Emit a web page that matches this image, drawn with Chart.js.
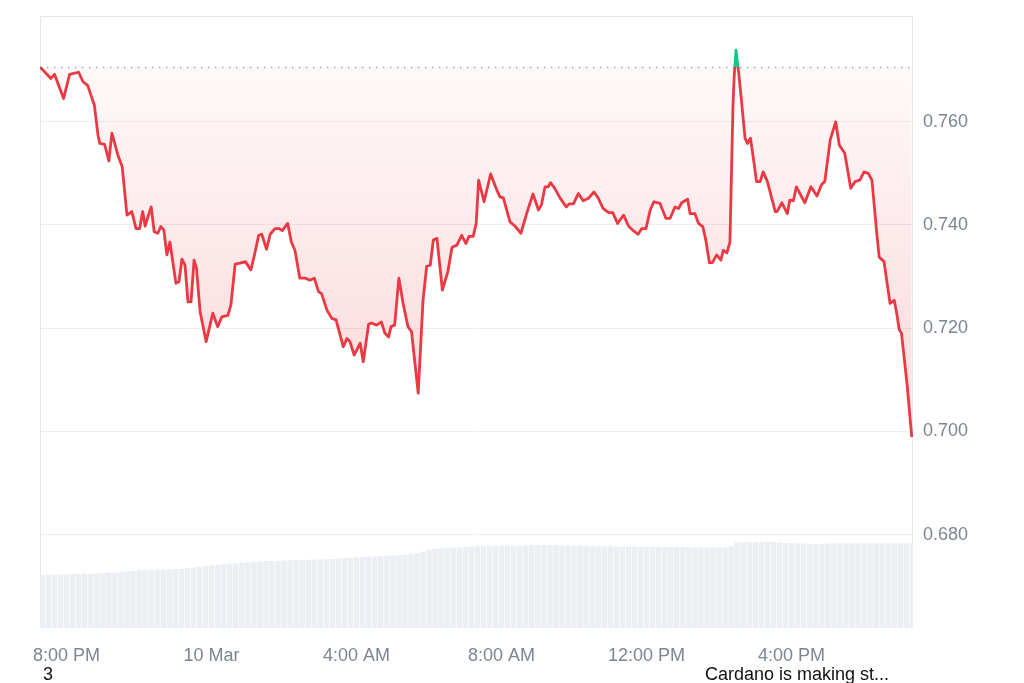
<!DOCTYPE html>
<html>
<head>
<meta charset="utf-8">
<script src="https://cdn.jsdelivr.net/npm/chart.js@4.4.1/dist/chart.umd.min.js"></script>
<style>
  body { margin: 0; background: #fff; }
  #wrap { position: relative; width: 1024px; height: 683px; }
  .caption { position: absolute; top: 665px; font: 18px/18px "Liberation Sans", Arial, sans-serif; color: #111; }
</style>
</head>
<body>
<div id="wrap">
  <canvas id="chart" width="1024" height="683"></canvas>
  <div class="caption" style="left:43px">3</div>
  <div class="caption" style="left:705px">Cardano is making st...</div>
</div>
<script>
// minutes from 8:00 PM (9 Mar)
const priceTimes = [-44,-26,-20,-5,5,20,27,35,46,52,
  55,63,70,75,85,92,100,108,115,121,
  126,130,140,145,151,156,161,166,171,181,
  186,191,196,201,206,211,215,221,231,242,
  250,257,267,272,279,287,296,305,311,318,
  323,331,337,345,352,357,366,372,378,386,
  395,403,410,417,422,431,439,446,458,464,
  469,476,486,491,500,505,513,521,527,533,
  537,543,550,557,565,571,582,590,596,602,
  607,613,622,631,638,646,654,661,666,673,
  678,682,691,702,712,717,723,734,742,752,
  762,772,781,786,792,797,801,808,817,827,
  832,839,847,855,864,873,880,888,897,904,
  912,922,930,938,946,952,959,966,972,982,
  992,999,1007,1013,1018,1028,1032,1040,1046,1053,
  1058,1064,1069,1076,1083,1087,1093,1098,1103,1105,
  1108,1112,1117,1123,1127,1132,1138,1142,1148,1153,
  1160,1173,1176,1184,1193,1197,1203,1208,1222,1232,
  1242,1250,1255,1264,1273,1279,1288,1298,1305,1313,
  1320,1327,1333,1341,1345,1353,1363,1370,1375,1378,
  1382,1391,1399];

const prices = [0.7706,0.7684,0.7692,0.7645,0.7692,0.7696,0.7678,0.7670,0.7632,0.7574,
  0.7558,0.7556,0.7524,0.7578,0.7535,0.7513,0.7419,0.7426,0.7393,0.7393,
  0.7426,0.7398,0.7435,0.7387,0.7384,0.7397,0.7390,0.7342,0.7367,0.7287,
  0.7290,0.7334,0.7322,0.7251,0.7251,0.7332,0.7316,0.7232,0.7174,0.7229,
  0.7203,0.7222,0.7225,0.7245,0.7324,0.7326,0.7329,0.7313,0.7342,0.7380,
  0.7382,0.7353,0.7382,0.7393,0.7393,0.7389,0.7403,0.7367,0.7351,0.7297,
  0.7297,0.7293,0.7297,0.7271,0.7267,0.7235,0.7219,0.7216,0.7164,0.7180,
  0.7174,0.7148,0.7171,0.7135,0.7208,0.7210,0.7206,0.7212,0.7190,0.7183,
  0.7203,0.7206,0.7297,0.7248,0.7203,0.7193,0.7074,0.7254,0.7320,0.7322,
  0.7371,0.7374,0.7274,0.7309,0.7357,0.7361,0.7380,0.7364,0.7378,0.7378,
  0.7403,0.7487,0.7445,0.7499,0.7468,0.7455,0.7452,0.7406,0.7398,0.7384,
  0.7424,0.7460,0.7429,0.7439,0.7474,0.7474,0.7482,0.7471,0.7452,0.7435,
  0.7441,0.7441,0.7461,0.7447,0.7452,0.7464,0.7452,0.7432,0.7424,0.7424,
  0.7403,0.7419,0.7398,0.7389,0.7382,0.7393,0.7393,0.7429,0.7445,0.7442,
  0.7413,0.7413,0.7435,0.7432,0.7443,0.7450,0.7422,0.7422,0.7403,0.7397,
  0.7371,0.7327,0.7327,0.7342,0.7332,0.7351,0.7346,0.7367,0.7629,0.7687,
  0.7739,0.7700,0.7642,0.7568,0.7558,0.7568,0.7519,0.7484,0.7484,0.7503,
  0.7484,0.7426,0.7426,0.7443,0.7422,0.7448,0.7447,0.7474,0.7443,0.7474,
  0.7456,0.7479,0.7484,0.7565,0.7600,0.7555,0.7539,0.7471,0.7484,0.7487,
  0.7503,0.7500,0.7487,0.7384,0.7338,0.7329,0.7248,0.7254,0.7222,0.7198,
  0.7190,0.7093,0.6989];

// volume bars, one every 10 minutes starting 7:20 PM (millions)
const volumeStart = -40;
const volumeStep = 10;
const volumes = [1062,1064,1068,1070,1074,1078,1080,1084,1086,1090,
  1094,1104,1112,1122,1132,1142,1154,1162,1164,1168,
  1170,1174,1178,1182,1196,1210,1224,1238,1250,1262,
  1274,1286,1298,1306,1314,1322,1330,1338,1342,1346,
  1350,1354,1358,1362,1364,1368,1372,1376,1380,1388,
  1396,1404,1412,1420,1428,1434,1440,1446,1452,1458,
  1470,1482,1494,1530,1568,1582,1592,1602,1610,1616,
  1622,1628,1634,1640,1646,1646,1646,1646,1646,1646,
  1650,1652,1656,1660,1656,1654,1650,1648,1644,1642,
  1640,1638,1636,1634,1632,1630,1628,1628,1626,1624,
  1624,1622,1622,1620,1620,1618,1618,1616,1616,1614,
  1614,1614,1614,1614,1630,1714,1716,1718,1722,1724,
  1726,1718,1710,1700,1694,1690,1688,1684,1680,1684,
  1688,1694,1694,1694,1694,1694,1694,1694,1694,1694,
  1694,1694,1694,1694,1694];

const baseline = 0.7706;
const timeTicks = [0, 240, 480, 720, 960, 1200];
const timeLabels = ['8:00 PM', '10 Mar', '4:00 AM', '8:00 AM', '12:00 PM', '4:00 PM'];
const priceTicks = [0.68, 0.70, 0.72, 0.74, 0.76];

const RED = '#ea3943';
const GREEN = '#16c784';
const tickFont = { family: '"Liberation Sans", Arial, sans-serif', size: 18 };

function lineColor(context) {
  const chart = context.chart;
  const { ctx, chartArea, scales } = chart;
  if (!chartArea) return RED;
  const y0 = scales.y.getPixelForValue(baseline);
  const stop = Math.min(1, Math.max(0, (y0 - chartArea.top) / (chartArea.bottom - chartArea.top)));
  const g = ctx.createLinearGradient(0, chartArea.top, 0, chartArea.bottom);
  g.addColorStop(0, GREEN);
  g.addColorStop(stop, GREEN);
  g.addColorStop(stop, RED);
  g.addColorStop(1, RED);
  return g;
}

function fillColor(context) {
  const chart = context.chart;
  const { ctx, chartArea, scales } = chart;
  if (!chartArea) return 'rgba(234,57,67,0.08)';
  const y0 = scales.y.getPixelForValue(baseline);
  const y1 = scales.y.getPixelForValue(0.72);
  const g = ctx.createLinearGradient(0, y0, 0, y1);
  g.addColorStop(0, 'rgba(234,57,67,0.03)');
  g.addColorStop(1, 'rgba(234,57,67,0.15)');
  return g;
}

const frame = {
  id: 'frame',
  beforeDatasetsDraw(chart) {
    const { ctx, chartArea: a, scales } = chart;
    ctx.save();
    ctx.strokeStyle = '#e4e6ea';
    ctx.lineWidth = 1;
    ctx.beginPath();
    ctx.moveTo(a.left + 0.5, a.bottom);
    ctx.lineTo(a.left + 0.5, a.top + 0.5);
    ctx.lineTo(a.right - 0.5, a.top + 0.5);
    ctx.lineTo(a.right - 0.5, a.bottom);
    ctx.stroke();
    const y = Math.round(scales.y.getPixelForValue(baseline)) + 0.5;
    ctx.strokeStyle = '#9aa1ad';
    ctx.lineWidth = 1.3;
    ctx.setLineDash([1.3, 5.7]);
    ctx.beginPath();
    ctx.moveTo(a.left, y);
    ctx.lineTo(a.right, y);
    ctx.stroke();
    ctx.restore();
  }
};

new Chart(document.getElementById('chart'), {
  type: 'line',
  data: {
    datasets: [{
      type: 'line',
      data: priceTimes.map((t, i) => ({ x: t, y: prices[i] })),
      yAxisID: 'y',
      borderColor: lineColor,
      backgroundColor: fillColor,
      fill: { target: { value: baseline }, above: 'rgba(22,199,132,0.6)' },
      borderWidth: 2.8,
      borderJoinStyle: 'round',
      pointRadius: 0,
      tension: 0,
      order: 1
    }, {
      type: 'bar',
      data: volumes.map((v, i) => ({ x: volumeStart + i * volumeStep, y: v })),
      yAxisID: 'y2',
      backgroundColor: '#ebeef2',
      barPercentage: 0.9,
      categoryPercentage: 1,
      order: 2
    }]
  },
  options: {
    responsive: false,
    animation: false,
    devicePixelRatio: 1,
    layout: { padding: { left: 40, top: 16, right: 0, bottom: 0 } },
    plugins: { legend: { display: false }, tooltip: { enabled: false } },
    scales: {
      x: {
        type: 'linear',
        min: -44,
        max: 1401,
        offset: false,
        grid: { display: false },
        border: { display: false },
        afterBuildTicks: (scale) => { scale.ticks = timeTicks.map(v => ({ value: v })); },
        afterFit: (scale) => { scale.height = 55; scale.paddingLeft = 0; scale.paddingRight = 0; },
        ticks: {
          autoSkip: false,
          maxRotation: 0,
          padding: 9,
          color: '#7d8593',
          font: tickFont,
          callback: (v) => timeLabels[timeTicks.indexOf(v)]
        }
      },
      y: {
        position: 'right',
        min: 0.6619,
        max: 0.7805,
        grid: { color: '#eceef1', drawTicks: false },
        border: { display: false },
        afterBuildTicks: (scale) => { scale.ticks = priceTicks.map(v => ({ value: v })); },
        afterFit: (scale) => { scale.width = 111; scale.paddingTop = 0; scale.paddingBottom = 0; },
        ticks: {
          padding: 10,
          color: '#7d8593',
          font: tickFont,
          callback: (v) => v.toFixed(3)
        }
      },
      y2: {
        display: false,
        min: 0,
        max: 12240
      }
    }
  },
  plugins: [frame]
});
</script>
</body>
</html>
